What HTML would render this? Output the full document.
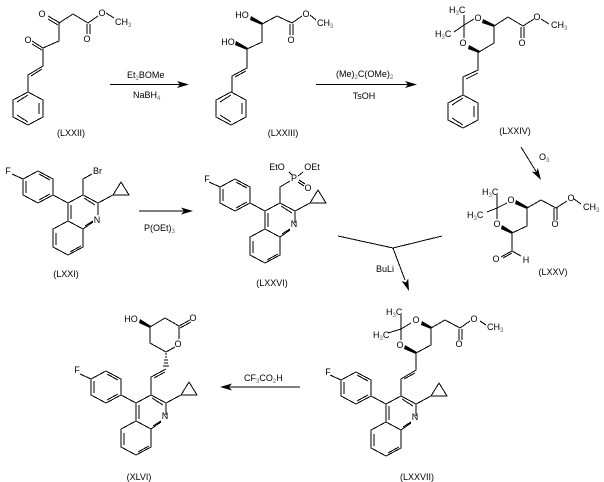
<!DOCTYPE html>
<html><head><meta charset="utf-8"><style>
html,body{margin:0;padding:0;background:#fff}
svg{display:block}
text{font-family:"Liberation Sans",sans-serif;font-size:9px;fill:#000}
.m{text-anchor:middle}
.s{font-size:6px;fill:#666}
.b{fill:none;stroke:#000;stroke-width:1;shape-rendering:crispEdges}
.w{fill:#000;stroke:none}
</style></head><body>
<svg xmlns="http://www.w3.org/2000/svg" width="604" height="482" viewBox="0 0 604 482">
<defs>
<g id="ph" class="b"><path d="M0 0L15 8V25L0 33L-15 25V8ZM-11 10L0 3M11 11V22M-11 23L0 30"/></g>
<g id="core" class="b"><path d="M0 0L15 8M1 3L12 10M0 0L-15 8V26M-12 10V24M-15 8L-30 0V-16L-45 -24L-60 -16V0L-45 8L-30 0M-44 -21L-33 -15M-57 -14V-2M-44 5L-33 -1M-15 26L0 34L10 27M2 31L10 26M15 8V20M-15 26L-30 34V52L-15 60L0 52V34M-27 38V50M-13 57L-2 51M15 8L30 0M30 0L38 -13L46 0ZM-60 -16L-71 -21"/></g>
<path id="ah" class="w" d="M0 0L-12 -3.5L-9 0L-12 3.5Z"/>
</defs>

<!-- LXXII -->
<g class="b"><path d="M59 23L73 14L88 23L98 16M106 13L114 18M87 24V34M90 24V34M60 23L48 16M58 25L48 19M59 23V41L43 48L32 41M42 50L32 44M43 48V66L28 75V92M42 69L31 76"/></g>
<use href="#ph" x="28" y="92"/>
<text class="m" x="42" y="17">O</text><text class="m" x="102" y="16">O</text><text class="m" x="87" y="42">O</text><text class="m" x="28" y="43">O</text>
<text x="115" y="25">CH<tspan class="s" dy="2">3</tspan></text>
<text class="m" x="71" y="136">(LXXII)</text>
<path class="b" d="M110 84.5H180"/><use href="#ah" x="189" y="84.5"/>
<text x="127" y="78">Et<tspan class="s" dy="2">2</tspan><tspan dy="-2">BOMe</tspan></text>
<text x="133" y="98">NaBH<tspan class="s" dy="2">4</tspan></text>

<!-- LXXIII -->
<g class="b"><path d="M262 24L277 16L292 23L302 16M310 15L316 20M290 24V35M293 24V35M262 24V42L247 49V68L232 76V92M246 71L235 77"/></g>
<path class="w" d="M251 16L263 23L262 25L250 20Z"/><path class="w" d="M236 41L248 48L247 50L235 45Z"/>
<use href="#ph" x="231" y="92"/>
<text class="m" x="242" y="18">HO</text><text class="m" x="228" y="45">HO</text><text class="m" x="306" y="17">O</text><text class="m" x="291" y="43">O</text>
<text x="317" y="26">CH<tspan class="s" dy="2">3</tspan></text>
<text class="m" x="283" y="136">(LXXIII)</text>
<path class="b" d="M316 84.5H408"/><use href="#ah" x="417" y="84.5"/>
<text x="336" y="77">(Me)<tspan class="s" dy="2">2</tspan><tspan dy="-2">C(OMe)</tspan><tspan class="s" dy="2">2</tspan></text>
<text class="m" x="364" y="99">TsOH</text>

<!-- LXXIV -->
<g class="b"><path d="M464 15V25L454 32M464 25L474 19M464 25V38M494 26V43L479 52M494 26L508 17L523 26L534 19M541 19L549 24M521 27V38M524 27V38M478 52V70L463 77V95M478 73L466 79"/></g>
<path class="w" d="M483 19L495 25L494 27L482 23Z"/><path class="w" d="M469 45L480 51L479 53L468 49Z"/>
<use href="#ph" x="463" y="95"/>
<text x="449" y="13">H<tspan class="s" dy="2">3</tspan><tspan dy="-2">C</tspan></text>
<text x="435" y="37">H<tspan class="s" dy="2">3</tspan><tspan dy="-2">C</tspan></text>
<text class="m" x="478" y="21">O</text><text class="m" x="463" y="46">O</text><text class="m" x="537" y="20">O</text><text class="m" x="522" y="46">O</text>
<text x="551" y="28">CH<tspan class="s" dy="2">3</tspan></text>
<text class="m" x="515" y="134">(LXXIV)</text>

<!-- arrow O3 -->
<path class="b" d="M521 147L537 173"/><use href="#ah" transform="translate(541 180) rotate(59)"/>
<text x="539" y="160">O<tspan class="s" dy="2">3</tspan></text>

<!-- LXXI -->
<use href="#core" x="83" y="195"/>
<path class="b" d="M83 195V179L92 174"/>
<text class="m" x="8" y="174">F</text><text class="m" x="97" y="223">N</text><text x="93" y="174">Br</text>
<text class="m" x="66" y="277">(LXXI)</text>
<path class="b" d="M139 211H184"/><use href="#ah" x="193" y="211"/>
<text x="144" y="231">P(OEt)<tspan class="s" dy="2">3</tspan></text>

<!-- LXXVI -->
<use href="#core" x="280" y="203"/>
<path class="b" d="M280 203V187L290 181M292 175L289 172M298 176L303 172M299 180L305 184M298 182L304 186"/>
<text class="m" x="207" y="182">F</text><text class="m" x="294" y="227">N</text><text class="m" x="294" y="181">P</text>
<text class="m" x="277" y="170">EtO</text><text class="m" x="312" y="170">OEt</text><text class="m" x="308" y="191">O</text>
<text class="m" x="272" y="286">(LXXVI)</text>

<!-- LXXV -->
<g class="b"><path d="M497 195V208L487 212M497 208L507 203M497 208V219M527 208V226L512 233M527 208L541 200L556 208L567 201M574 199L581 204M554 208V220M557 208V220M512 233V251L521 256M512 251L501 257M512 253L503 258"/></g>
<path class="w" d="M516 200L528 207L527 209L515 204Z"/><path class="w" d="M502 225L513 232L512 234L501 229Z"/>
<text x="482" y="195">H<tspan class="s" dy="2">3</tspan><tspan dy="-2">C</tspan></text>
<text x="467" y="218">H<tspan class="s" dy="2">3</tspan><tspan dy="-2">C</tspan></text>
<text class="m" x="511" y="203">O</text><text class="m" x="497" y="227">O</text><text class="m" x="571" y="201">O</text><text class="m" x="555" y="227">O</text><text class="m" x="496" y="262">O</text><text class="m" x="526" y="263">H</text>
<text x="583" y="210">CH<tspan class="s" dy="2">3</tspan></text>
<text class="m" x="553" y="275">(LXXV)</text>

<!-- BuLi -->
<path class="b" d="M338 236L393 248L442 236M393 248L405 280"/><use href="#ah" transform="translate(409 291) rotate(70)"/>
<text x="376" y="272">BuLi</text>

<!-- LXXVII -->
<use href="#core" x="401" y="396"/>
<g class="b"><path d="M401 315V329L388 333M401 329L411 323M401 329V340M431 328V345L416 353M431 328L445 320L460 328L470 321M480 321L486 325M459 329V340M462 329V340M416 353V370L401 379V396M415 373L404 379"/></g>
<path class="w" d="M422 321L432 327L431 329L421 325Z"/><path class="w" d="M405 345L417 352L416 354L404 349Z"/>
<text x="386" y="315">H<tspan class="s" dy="2">3</tspan><tspan dy="-2">C</tspan></text>
<text x="373" y="338">H<tspan class="s" dy="2">3</tspan><tspan dy="-2">C</tspan></text>
<text class="m" x="416" y="323">O</text><text class="m" x="400" y="348">O</text><text class="m" x="474" y="322">O</text><text class="m" x="459" y="347">O</text>
<text x="487" y="330">CH<tspan class="s" dy="2">3</tspan></text>
<text class="m" x="328" y="375">F</text><text class="m" x="415" y="420">N</text>
<text class="m" x="417" y="480">(LXXVII)</text>

<!-- CF3 arrow -->
<path class="b" d="M229 387H300"/><use href="#ah" transform="translate(220 387) rotate(180)"/>
<text x="244" y="381">CF<tspan class="s" dy="2">3</tspan><tspan dy="-2">CO</tspan><tspan class="s" dy="2">2</tspan><tspan dy="-2">H</tspan></text>

<!-- XLVI -->
<use href="#core" x="151" y="395"/>
<g class="b"><path d="M150 327L165 318L179 326L190 320M180 328L191 322M179 326V339M175 347L166 352L150 343V327M166 369L151 377V395M165 372L154 378"/></g>
<path class="w" d="M140 319L151 326L150 328L139 323Z"/>
<g class="b"><path d="M165 354H167M165 357H167M164 360H168M164 363H168M163 366H169"/></g>
<text class="m" x="131" y="322">HO</text><text class="m" x="193" y="321">O</text><text class="m" x="178" y="347">O</text>
<text class="m" x="77" y="373">F</text><text class="m" x="165" y="419">N</text>
<text class="m" x="139" y="480">(XLVI)</text>
</svg>
</body></html>
